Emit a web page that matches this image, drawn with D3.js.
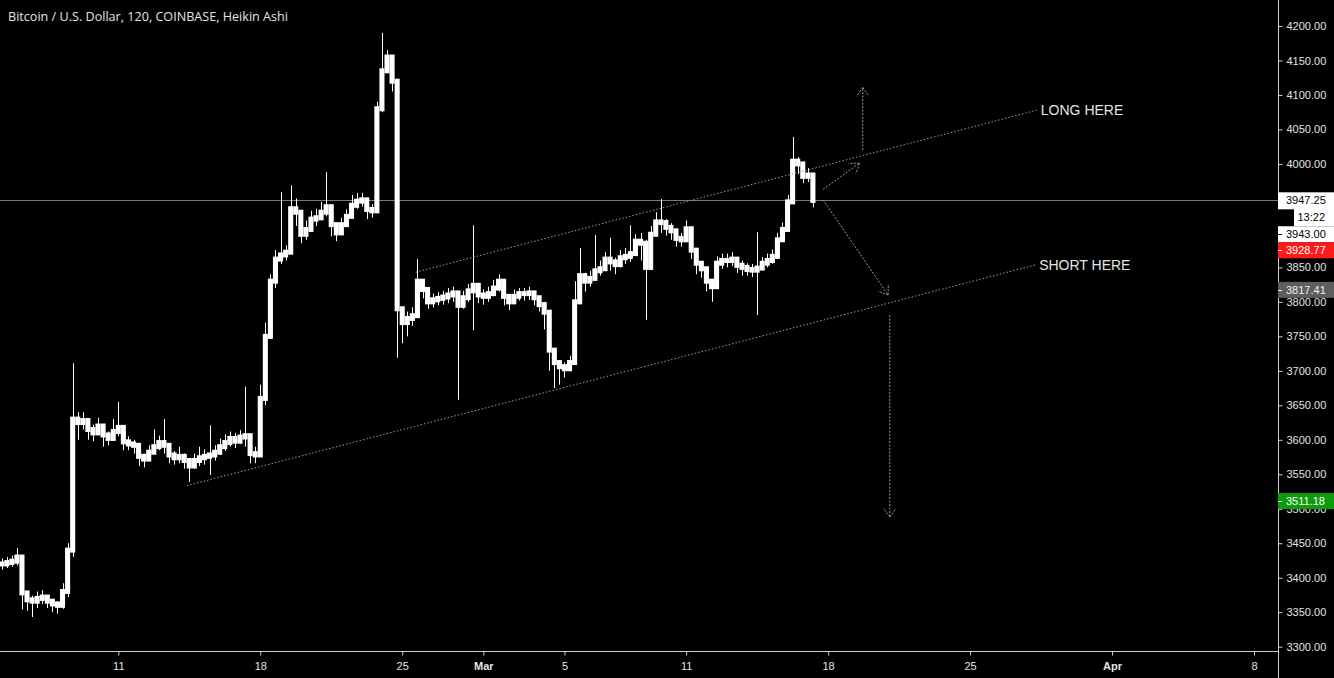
<!DOCTYPE html>
<html>
<head>
<meta charset="utf-8">
<script src="https://cdn.jsdelivr.net/npm/d3@7"></script>
<style>
html, body { margin: 0; padding: 0; background: #000; overflow: hidden; }
svg { display: block; }
text { font-family: "Liberation Sans", Arial, sans-serif; }
</style>
</head>
<body>
<div id="chart"></div>
<script>
// colour definitions
var bcolor = '#000000';
var tcolor = '#e4e4e4';
var axiscolor = '#d0d0d0';
var drawcolor = '#9c9c9c';
var pricelinecolor = '#7a7a7a';

// heikin ashi candles, 6h each
var candleStart = '2019-02-05T06:00:00Z';
var candleHours = 6;

var closes = [
	3420, 3422, 3424, 3430, 3378, 3368, 3366, 3370, 3372, 3366,
	3362, 3360, 3380, 3440, 3630, 3625, 3628, 3615, 3610, 3620,
	3607, 3602, 3612, 3618, 3597, 3594, 3592, 3576, 3572, 3582,
	3590, 3596, 3592, 3578, 3574, 3576, 3570, 3562, 3570, 3574,
	3576, 3578, 3582, 3590, 3596, 3602, 3598, 3604, 3606, 3580,
	3578, 3660, 3750, 3830, 3862, 3868, 3872, 3935, 3930, 3898,
	3905, 3920, 3922, 3930, 3938, 3912, 3900, 3912, 3924, 3940,
	3946, 3948, 3934, 3932, 4080, 4135, 4155, 4120, 3790, 3770,
	3776, 3780, 3830, 3818, 3800, 3803, 3805, 3807, 3810, 3813,
	3795, 3806, 3816, 3824, 3810, 3808, 3812, 3820, 3830, 3808,
	3800, 3808, 3812, 3812, 3813, 3806, 3796, 3785, 3730, 3712,
	3706, 3703, 3712, 3800, 3838, 3830, 3834, 3845, 3848, 3862,
	3858, 3854, 3864, 3866, 3870, 3888, 3885, 3850, 3898, 3916,
	3915, 3908, 3903, 3892, 3890, 3906, 3875, 3856, 3848, 3830,
	3822, 3856, 3860, 3860, 3862, 3853, 3850, 3847, 3846, 3849,
	3856, 3860, 3866, 3890, 3905, 3945, 4004, 4000, 3982, 3984,
	3947
];
var highs = [
	3428, 3430, 3432, 3443, 3425, 3376, 3374, 3380, 3382, 3372,
	3368, 3366, 3392, 3450, 3711, 3640, 3640, 3628, 3622, 3632,
	3616, 3612, 3630, 3655, 3610, 3605, 3600, 3590, 3580, 3592,
	3615, 3606, 3630, 3590, 3584, 3590, 3580, 3572, 3580, 3590,
	3586, 3621, 3592, 3602, 3608, 3612, 3610, 3614, 3677, 3595,
	3590, 3680, 3770, 3840, 3875, 3959, 3882, 3969, 3950, 3910,
	3918, 3932, 3935, 3945, 3988, 3930, 3912, 3922, 3934, 3955,
	3958, 3958, 3945, 3942, 4090, 4190, 4165, 4150, 4120, 3790,
	3786, 3792, 3862, 3830, 3812, 3812, 3814, 3816, 3820, 3822,
	3810, 3816, 3826, 3911, 3822, 3818, 3822, 3832, 3840, 3820,
	3810, 3818, 3820, 3820, 3822, 3815, 3806, 3800, 3770, 3725,
	3715, 3712, 3722, 3830, 3878, 3842, 3845, 3897, 3860, 3872,
	3893, 3864, 3875, 3878, 3911, 3898, 3900, 3890, 3910, 3930,
	3949, 3920, 3914, 3902, 3900, 3918, 3905, 3868, 3858, 3845,
	3832, 3866, 3870, 3870, 3872, 3862, 3860, 3856, 3855, 3901,
	3865, 3870, 3876, 3900, 3915, 3955, 4039, 4010, 3992, 3994,
	3972
];
var lows = [
	3412, 3414, 3416, 3418, 3354, 3352, 3343, 3356, 3362, 3356,
	3350, 3348, 3355, 3372, 3430, 3600, 3615, 3600, 3598, 3608,
	3590, 3592, 3600, 3605, 3585, 3585, 3580, 3562, 3560, 3570,
	3580, 3585, 3580, 3566, 3564, 3566, 3558, 3539, 3558, 3562,
	3564, 3549, 3570, 3578, 3584, 3590, 3588, 3594, 3590, 3566,
	3566, 3575, 3650, 3750, 3820, 3855, 3860, 3870, 3910, 3885,
	3890, 3906, 3910, 3918, 3924, 3895, 3888, 3900, 3912, 3928,
	3935, 3938, 3920, 3922, 3930, 4075, 4140, 4105, 3719, 3740,
	3750, 3765, 3778, 3805, 3790, 3792, 3795, 3796, 3798, 3800,
	3658, 3790, 3800, 3759, 3798, 3796, 3800, 3808, 3815, 3795,
	3788, 3798, 3802, 3802, 3803, 3795, 3786, 3760, 3700, 3675,
	3680, 3690, 3700, 3712, 3820, 3815, 3822, 3835, 3838, 3850,
	3845, 3840, 3850, 3855, 3858, 3875, 3860, 3774, 3846, 3900,
	3900, 3896, 3890, 3880, 3880, 3895, 3862, 3840, 3835, 3815,
	3800, 3820, 3848, 3850, 3852, 3842, 3838, 3838, 3836, 3781,
	3846, 3850, 3855, 3862, 3890, 3905, 3950, 3985, 3972, 3974,
	3937
];

// axes
var priceTicks = [3300, 3350, 3400, 3450, 3500, 3550, 3600, 3650, 3700, 3750,
	3800, 3850, 3900, 3950, 4000, 4050, 4100, 4150, 4200];
var dateTicks = ['2019-02-11', '2019-02-18', '2019-02-25', '2019-03-01', '2019-03-05',
	'2019-03-11', '2019-03-18', '2019-03-25', '2019-04-01', '2019-04-08'];
var dateTickLabels = ['11', '18', '25', 'Mar', '5', '11', '18', '25', 'Apr', '8'];

// price scale labels
var lastPrice = 3947.25;
var countdown = '13:22';
var scaleLabels = [3943.00, 3928.77, 3817.41, 3511.18];

// drawings [time, price]
var upperChannel = [['2019-02-25T16:00:00Z', 3843], ['2019-03-28T07:00:00Z', 4078]];
var lowerChannel = [['2019-02-14T09:00:00Z', 3533.5], ['2019-03-28T05:00:00Z', 3853.5]];
var arrows = [
	[['2019-03-19T17:00:00Z', 4020], ['2019-03-19T17:00:00Z', 4111]],
	[['2019-03-17T18:00:00Z', 3963], ['2019-03-19T13:00:00Z', 4001]],
	[['2019-03-17T18:00:00Z', 3948], ['2019-03-20T23:00:00Z', 3810]],
	[['2019-03-21T01:00:00Z', 3781], ['2019-03-21T01:00:00Z', 3488]]
];
var notes = ['LONG HERE', 'SHORT HERE'];

var title = 'Bitcoin / U.S. Dollar, 120, COINBASE, Heikin Ashi';

function plotChart() {
	var width = 1334, height = 678;
	var axisX = 1278, axisY = 651;

	var svg = d3.select('#chart')
		.append('svg')
		.attr('width', width)
		.attr('height', height)
		.style('background', bcolor);

	var x = d3.scaleUtc()
		.domain([new Date('2019-02-11T00:00:00Z'), new Date('2019-04-08T00:00:00Z')])
		.range([118.3, 1254]);
	var y = d3.scaleLinear()
		.domain([3300, 4200])
		.range([646.7, 26]);

	// last price line
	svg.append('line')
		.attr('x1', 0).attr('x2', axisX)
		.attr('y1', Math.round(y(lastPrice)) + 0.5).attr('y2', Math.round(y(lastPrice)) + 0.5)
		.attr('stroke', pricelinecolor)
		.attr('stroke-width', 1);

	// candles
	var t0 = new Date(candleStart).getTime();
	var times = closes.map(function (c, i) {
		return new Date(t0 + i * candleHours * 3600e3);
	});
	var step = x(times[1]) - x(times[0]);

	var candles = svg.append('g').attr('class', 'candles');
	candles.selectAll('line')
		.data(closes)
		.enter()
		.append('line')
		.attr('x1', function (d, i) { return Math.round(x(times[i])) + 0.5; })
		.attr('x2', function (d, i) { return Math.round(x(times[i])) + 0.5; })
		.attr('y1', function (d, i) { return y(highs[i]); })
		.attr('y2', function (d, i) { return y(lows[i]); })
		.attr('stroke', '#ffffff')
		.attr('stroke-width', 1);
	candles.selectAll('rect')
		.data(closes)
		.enter()
		.append('rect')
		.attr('x', function (d, i) { return x(times[i]) - step / 2; })
		.attr('width', step)
		.attr('y', function (d, i) {
			var o = i > 0 ? closes[i - 1] : d;
			return Math.min(y(o), y(d)) - 2.5;
		})
		.attr('height', function (d, i) {
			var o = i > 0 ? closes[i - 1] : d;
			return Math.abs(y(o) - y(d)) + 5;
		})
		.attr('fill', '#ffffff');

	// channel lines
	var pt = function (p) { return [x(new Date(p[0])), y(p[1])]; };
	[upperChannel, lowerChannel].forEach(function (ln, k) {
		var a = pt(ln[0]), b = pt(ln[1]);
		svg.append('line')
			.attr('x1', a[0]).attr('y1', a[1])
			.attr('x2', b[0]).attr('y2', b[1])
			.attr('stroke', drawcolor)
			.attr('stroke-width', 1)
			.attr('stroke-dasharray', '1.5,2');
		svg.append('text')
			.attr('x', b[0] + 4)
			.attr('y', b[1] + 5)
			.attr('fill', tcolor)
			.style('font-size', '14px')
			.text(notes[k]);
	});

	// arrows
	arrows.forEach(function (ar) {
		var a = pt(ar[0]), b = pt(ar[1]);
		var g = svg.append('g')
			.attr('stroke', drawcolor)
			.attr('stroke-width', 1)
			.attr('stroke-dasharray', '2,1.5')
			.attr('fill', 'none');
		g.append('line')
			.attr('x1', a[0]).attr('y1', a[1])
			.attr('x2', b[0]).attr('y2', b[1]);
		var ang = Math.atan2(b[1] - a[1], b[0] - a[0]);
		[-0.62, 0.62].forEach(function (s) {
			g.append('line')
				.attr('x1', b[0]).attr('y1', b[1])
				.attr('x2', b[0] - 11 * Math.cos(ang + s))
				.attr('y2', b[1] - 11 * Math.sin(ang + s));
		});
	});

	// axis lines
	svg.append('line')
		.attr('x1', 0).attr('x2', axisX)
		.attr('y1', axisY + 0.5).attr('y2', axisY + 0.5)
		.attr('stroke', axiscolor);
	svg.append('line')
		.attr('x1', axisX + 0.5).attr('x2', axisX + 0.5)
		.attr('y1', 0).attr('y2', height)
		.attr('stroke', axiscolor);

	// price axis
	var yAxis = svg.append('g')
		.attr('transform', 'translate(' + (axisX + 0.5) + ',0)')
		.call(d3.axisRight(y)
			.tickValues(priceTicks)
			.tickFormat(d3.format('.2f'))
			.tickSize(4)
			.tickPadding(4));
	yAxis.select('.domain').remove();
	yAxis.selectAll('line').attr('stroke', axiscolor);
	yAxis.selectAll('text')
		.attr('fill', tcolor)
		.style('font-size', '11px')
		.style('font-family', '"Liberation Sans", Arial, sans-serif');

	// time axis
	var xAxis = svg.append('g')
		.attr('transform', 'translate(0,' + (axisY + 0.5) + ')')
		.call(d3.axisBottom(x)
			.tickValues(dateTicks.map(function (d) { return new Date(d + 'T00:00:00Z'); }))
			.tickFormat(function (d, i) { return dateTickLabels[i]; })
			.tickSize(4)
			.tickPadding(7));
	xAxis.select('.domain').remove();
	xAxis.selectAll('line').attr('stroke', axiscolor);
	xAxis.selectAll('text')
		.attr('fill', tcolor)
		.style('font-size', '11px')
		.style('font-family', '"Liberation Sans", Arial, sans-serif')
		.style('font-weight', function (d, i) {
			return isNaN(+dateTickLabels[i]) ? 'bold' : 'normal';
		});

	// price scale labels, stacked so they do not overlap
	var boxH = 16, rowH = 18;
	var lab = svg.append('g');
	var top = y(lastPrice) - boxH / 2;
	lab.append('rect')
		.attr('x', axisX).attr('y', top)
		.attr('width', width - axisX).attr('height', boxH + rowH)
		.attr('fill', '#ffffff');
	lab.append('rect')
		.attr('x', axisX).attr('y', top + boxH + 1)
		.attr('width', 16).attr('height', rowH - 1)
		.attr('fill', '#000000');
	lab.append('text')
		.attr('x', axisX + 8).attr('y', top + boxH / 2)
		.attr('dy', '0.35em')
		.attr('fill', '#000000')
		.style('font-size', '11px')
		.text(d3.format('.2f')(lastPrice));
	lab.append('text')
		.attr('x', width - 9).attr('y', top + boxH + rowH / 2)
		.attr('dy', '0.35em')
		.attr('text-anchor', 'end')
		.attr('fill', '#000000')
		.style('font-size', '11px')
		.text(countdown);
	var bottom = top + boxH + rowH;

	var boxFill = ['#ffffff', '#ff1a1a', '#5e5e5e', '#0c9c0c'];
	var boxText = ['#000000', '#ffffff', '#f0f0f0', '#ffffff'];
	scaleLabels.forEach(function (v, k) {
		var t = Math.max(y(v) - boxH / 2, bottom);
		lab.append('rect')
			.attr('x', axisX).attr('y', t)
			.attr('width', width - axisX).attr('height', boxH)
			.attr('fill', boxFill[k]);
		lab.append('line')
			.attr('x1', axisX).attr('x2', axisX + 4)
			.attr('y1', Math.round(t + boxH / 2) + 0.5).attr('y2', Math.round(t + boxH / 2) + 0.5)
			.attr('stroke', boxText[k]);
		lab.append('text')
			.attr('x', axisX + 8).attr('y', t + boxH / 2)
			.attr('dy', '0.35em')
			.attr('fill', boxText[k])
			.style('font-size', '11px')
			.text(d3.format('.2f')(v));
		bottom = t + boxH;
	});

	// title
	svg.append('text')
		.attr('x', 8)
		.attr('y', 20.5)
		.attr('fill', tcolor)
		.style('font-family', '"Open Sans", "Noto Sans", sans-serif')
		.style('font-size', '12.5px')
		.attr('textLength', 280)
		.attr('lengthAdjust', 'spacingAndGlyphs')
		.text(title);
}

document.addEventListener('DOMContentLoaded', plotChart, false);
</script>
</body>
</html>
